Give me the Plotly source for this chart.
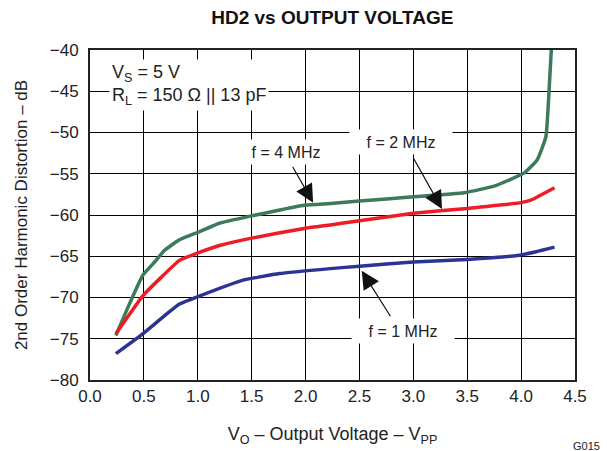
import plotly.graph_objects as go

# 4 MHz (green)
x_4mhz = [0.24, 0.365, 0.49, 0.60, 0.69, 0.83, 1.02, 1.2, 1.5, 1.76, 2.0, 2.23, 2.5, 3.0, 3.47, 3.75, 4.03, 4.15, 4.23, 4.26, 4.28]
y_4mhz = [-74.6, -70.8, -67.3, -65.7, -64.3, -63.0, -62.0, -61.0, -60.1, -59.4, -58.8, -58.6, -58.3, -57.8, -57.3, -56.5, -54.9, -53.3, -50.5, -44.8, -40.0]

# 2 MHz (red)
x_2mhz = [0.24, 0.49, 0.665, 0.83, 1.02, 1.2, 1.5, 2.0, 2.23, 2.5, 3.0, 3.5, 4.0, 4.09, 4.18, 4.31]
y_2mhz = [-74.4, -69.8, -67.5, -65.5, -64.5, -63.7, -62.8, -61.6, -61.2, -60.7, -59.8, -59.2, -58.5, -58.2, -57.6, -56.7]

# 1 MHz (blue)
x_1mhz = [0.24, 0.49, 0.665, 0.83, 1.02, 1.42, 1.76, 2.23, 2.5, 3.0, 3.5, 3.97, 4.14, 4.31]
y_1mhz = [-76.8, -74.4, -72.5, -70.8, -69.8, -67.9, -67.1, -66.5, -66.2, -65.7, -65.4, -64.9, -64.45, -63.9]

x_ticks = [0.0, 0.5, 1.0, 1.5, 2.0, 2.5, 3.0, 3.5, 4.0, 4.5]
y_ticks = [-80, -75, -70, -65, -60, -55, -50, -45, -40]

FONT = "Arial, Liberation Sans, sans-serif"

fig = go.Figure()
fig.add_trace(go.Scatter(x=x_4mhz, y=y_4mhz, mode="lines", line=dict(color="#3b7a5a", width=3.5, shape="spline", smoothing=0.4), showlegend=False))
fig.add_trace(go.Scatter(x=x_2mhz, y=y_2mhz, mode="lines", line=dict(color="#ee1c25", width=3.5, shape="spline", smoothing=0.4), showlegend=False))
fig.add_trace(go.Scatter(x=x_1mhz, y=y_1mhz, mode="lines", line=dict(color="#2b3494", width=3.5, shape="spline", smoothing=0.4), showlegend=False))

annotations = []
# conditions box
annotations.append(dict(x=0.18, y=-44.3, xref="x", yref="y", xanchor="left", yanchor="middle",
                        text="V<sub>S</sub> = 5 V<br>R<sub>L</sub> = 150 Ω || 13 pF",
                        showarrow=False, align="left", bgcolor="white", borderpad=2,
                        font=dict(size=18, color="#222")))
# frequency labels
for txt, lx, ly in [("f = 4 MHz", 1.82, -52.4), ("f = 2 MHz", 2.89, -51.2), ("f = 1 MHz", 2.90, -74.1)]:
    annotations.append(dict(x=lx, y=ly, xref="x", yref="y", text=txt, showarrow=False,
                            bgcolor="white", width=100, height=22, borderpad=1,
                            font=dict(size=16, color="#222")))
# arrows
for tx, ty, ax, ay in [(2.07, -58.5, 1.871, -53.94), (3.266, -59.27, 2.994, -52.93), (2.521, -66.75, 2.799, -72.52)]:
    annotations.append(dict(x=tx, y=ty, ax=ax, ay=ay, xref="x", yref="y", axref="x", ayref="y",
                            text=" ", showarrow=True, arrowhead=2, arrowsize=3, arrowwidth=1.2,
                            arrowcolor="#111", standoff=0, font=dict(size=1)))

plot_w = 607 - 90 - 32
plot_h = 451 - 50 - 71
# figure code
annotations.append(dict(x=(586 - 90) / plot_w, y=(380 - 446) / plot_h, xref="paper", yref="paper",
                        xanchor="center", yanchor="middle", text="G015", showarrow=False,
                        font=dict(size=11, color="#222")))

fig.update_layout(
    width=607, height=451,
    margin=dict(l=90, r=32, t=50, b=71),
    paper_bgcolor="white", plot_bgcolor="white",
    font=dict(family=FONT, color="#222"),
    title=dict(text="<b>HD2 vs OUTPUT VOLTAGE</b>", x=0.5475, xanchor="center", y=0.962, yanchor="middle",
               font=dict(size=19, color="#111")),
    xaxis=dict(range=[0, 4.5], tickvals=x_ticks, ticktext=[f"{v:.1f}" for v in x_ticks],
               showgrid=True, gridcolor="black", gridwidth=1, zeroline=False,
               showline=True, linecolor="#222", linewidth=2, mirror=True, ticks="",
               tickfont=dict(size=17), automargin=False,
               title=dict(text="V<sub>O</sub> – Output Voltage – V<sub>PP</sub>",
                          font=dict(size=18), standoff=22)),
    yaxis=dict(range=[-80, -40], tickvals=y_ticks,
               showgrid=True, gridcolor="black", gridwidth=1, zeroline=False,
               showline=True, linecolor="#222", linewidth=2, mirror=True, ticks="",
               tickfont=dict(size=17), ticklabelstandoff=6, automargin=False,
               title=dict(text="2nd Order Harmonic Distortion – dB", font=dict(size=17), standoff=18)),
    annotations=annotations,
)

fig.write_html("out.html", config={"displayModeBar": False},
               post_script="document.body.style.margin='0';")
